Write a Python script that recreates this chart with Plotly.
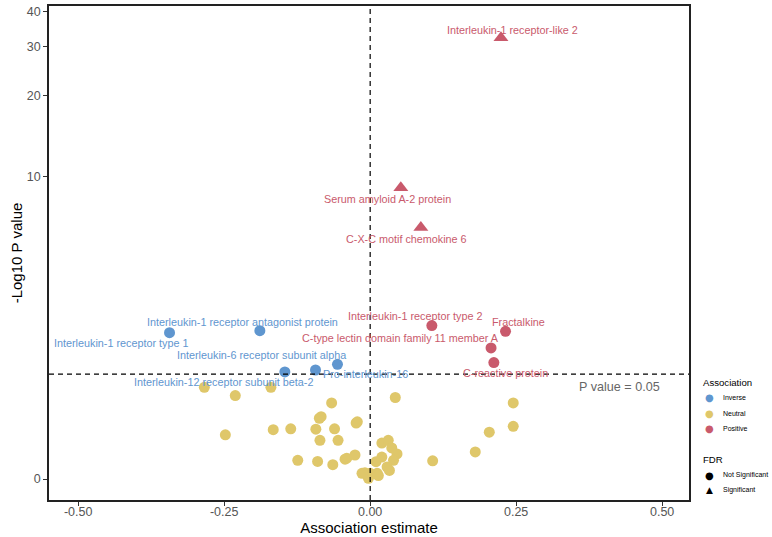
import numpy as np
import plotly.graph_objects as go

# ---------------- data ----------------
neutral_est = [-0.284, -0.231, -0.170, -0.066, -0.087, -0.084, -0.024, -0.022, -0.248, -0.166,
               -0.136, -0.093, -0.061, -0.086, -0.055, -0.124, -0.090, -0.064, -0.043, -0.040,
               -0.026, -0.014, -0.009, 0.000, -0.003, 0.010, 0.012, 0.014, 0.020, 0.031,
               0.037, 0.046, 0.040, 0.020, 0.029, 0.033, 0.107, 0.043, 0.245, 0.245,
               0.204, 0.180]
neutral_nlp = [1.07, 0.94, 1.07, 0.83, 0.62, 0.64, 0.56, 0.575, 0.42, 0.48,
               0.49, 0.485, 0.49, 0.36, 0.36, 0.16, 0.15, 0.12, 0.17, 0.18,
               0.21, 0.046, 0.05, 0.046, 0.006, 0.147, 0.046, 0.028, 0.33, 0.36,
               0.28, 0.22, 0.16, 0.19, 0.10, 0.07, 0.155, 0.91, 0.83, 0.52,
               0.45, 0.24]

inverse_names = ["Interleukin-1 receptor type 1", "Interleukin-1 receptor antagonist protein",
                 "Interleukin-6 receptor subunit alpha", "Interleukin-12 receptor subunit beta-2",
                 "Pro-interleukin-16"]
inverse_est = [-0.3436, -0.1889, -0.056, -0.1461, -0.0936]
inverse_nlp = [2.195, 2.246, 1.486, 1.339, 1.376]

pos_ns_names = ["Interleukin-1 receptor type 2", "Fractalkine",
                "C-type lectin domain family 11 member A", "C-reactive protein"]
pos_ns_est = [0.1056, 0.2318, 0.207, 0.2118]
pos_ns_nlp = [2.38, 2.23, 1.83, 1.52]

pos_sig_names = ["Interleukin-1 receptor-like 2", "Serum amyloid A-2 protein", "C-X-C motif chemokine 6"]
pos_sig_est = [0.224, 0.0525, 0.0868]
pos_sig_nlp = [32.2, 9.1, 6.36]

y_ticks = [0, 10, 20, 30, 40]
x_ticks = [-0.50, -0.25, 0.00, 0.25, 0.50]
p_threshold = 0.05

# label offsets in pixels (dx, dy down)
inverse_off = [(-49, 10), (-17, -9), (-76, -9), (-61, 10), (50, 4)]
pos_ns_off = [(-17, -10), (13, -9), (-91, -10), (12, 10)]
pos_sig_off = [(12, -8), (-13, 11), (-14, 11)]

BLUE = "#5F96CF"
YELLOW = "#DFC76A"
RED = "#C95A6C"
FONT = "Liberation Sans, Arial, Helvetica, sans-serif"


def tr(v):
    return np.log10(1 + np.asarray(v, dtype=float))


fig = go.Figure()
fig.add_trace(go.Scatter(x=neutral_est, y=tr(neutral_nlp), mode="markers",
                         marker=dict(color=YELLOW, size=11, symbol="circle"), showlegend=False))
fig.add_trace(go.Scatter(x=inverse_est, y=tr(inverse_nlp), mode="markers",
                         marker=dict(color=BLUE, size=11, symbol="circle"), showlegend=False))
fig.add_trace(go.Scatter(x=pos_ns_est, y=tr(pos_ns_nlp), mode="markers",
                         marker=dict(color=RED, size=11, symbol="circle"), showlegend=False))
fig.add_trace(go.Scatter(x=pos_sig_est, y=tr(pos_sig_nlp), mode="markers",
                         marker=dict(color=RED, size=13, symbol="triangle-up"), showlegend=False))

annotations = []
for names, xs, ys, offs, col in [(inverse_names, inverse_est, inverse_nlp, inverse_off, BLUE),
                                 (pos_ns_names, pos_ns_est, pos_ns_nlp, pos_ns_off, RED),
                                 (pos_sig_names, pos_sig_est, pos_sig_nlp, pos_sig_off, RED)]:
    for n, x, y, (dx, dy) in zip(names, xs, ys, offs):
        annotations.append(dict(x=x, y=float(tr(y)), text=n, showarrow=False,
                                xshift=dx, yshift=-dy, font=dict(size=10.8, color=col, family=FONT)))

thr = float(tr(-np.log10(p_threshold)))
annotations.append(dict(x=0.5, y=thr, text="P value = 0.05", showarrow=False, xanchor="right",
                        yanchor="middle", yshift=-13, xshift=0,
                        font=dict(size=12.6, color="#666666", family=FONT)))

# manual legend
def py2paper(py):
    return (500 - py) / 494.0

def px2paper(px):
    return (px - 49) / 640.0

legend_items = [
    ("Association", None, None, 382, True),
    ("Inverse", "●", BLUE, 398, False),
    ("Neutral", "●", YELLOW, 413, False),
    ("Positive", "●", RED, 428, False),
    ("FDR", None, None, 459, True),
    ("Not Significant", "●", "black", 475, False),
    ("Significant", "▲", "black", 490, False),
]
for text, glyph, col, py, is_title in legend_items:
    if is_title:
        annotations.append(dict(x=px2paper(701), y=py2paper(py), xref="paper", yref="paper",
                                text=text, showarrow=False, xanchor="left", yanchor="middle",
                                font=dict(size=9.6, color="black", family=FONT)))
    else:
        annotations.append(dict(x=px2paper(709), y=py2paper(py), xref="paper", yref="paper",
                                text=glyph, showarrow=False, xanchor="center", yanchor="middle",
                                font=dict(size=10 if glyph == "●" else 9, color=col, family="DejaVu Sans")))
        annotations.append(dict(x=px2paper(721), y=py2paper(py), xref="paper", yref="paper",
                                text=text, showarrow=False, xanchor="left", yanchor="middle",
                                font=dict(size=7.0, color="black", family=FONT)))

shapes = [
    dict(type="line", xref="x", yref="paper", x0=0, x1=0, y0=0, y1=1,
         line=dict(color="black", width=1.2, dash="5px,4px"), layer="above"),
    dict(type="line", xref="paper", yref="y", x0=0, x1=1, y0=thr, y1=thr,
         line=dict(color="black", width=1.2, dash="5px,4px"), layer="above"),
]

fig.update_layout(
    width=772, height=537,
    margin=dict(l=49, r=83, t=6, b=37),
    paper_bgcolor="white", plot_bgcolor="white",
    font=dict(family=FONT, color="black"),
    showlegend=False,
    annotations=annotations,
    shapes=shapes,
)
fig.update_xaxes(range=[-0.55, 0.546], tickvals=x_ticks, ticktext=[f"{v:.2f}" for v in x_ticks],
                 showgrid=False, zeroline=False, showline=True, linecolor="#222", linewidth=1.5,
                 mirror=True, ticks="outside", ticklen=4, tickcolor="#333",
                 tickfont=dict(size=12.5, color="#555"), ticklabelstandoff=-5,
                 title=dict(text="Association estimate", font=dict(size=15), standoff=4),
                 automargin=False)
fig.update_yaxes(range=[-0.0724, 1.631], tickvals=list(tr(y_ticks)), ticktext=[str(v) for v in y_ticks],
                 showgrid=False, zeroline=False, showline=True, linecolor="#222", linewidth=1.5,
                 mirror=True, ticks="outside", ticklen=4, tickcolor="#333",
                 tickfont=dict(size=12.5, color="#555"),
                 title=dict(text="-Log10 P value", font=dict(size=15), standoff=1),
                 automargin=False)

fig.write_html("out.html", config={"displayModeBar": False},
               post_script="document.body.style.margin='0';")
